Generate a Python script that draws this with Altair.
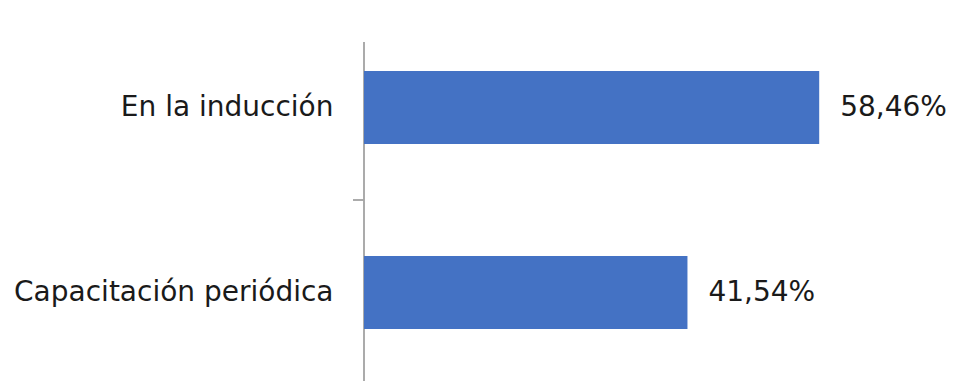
import altair as alt
import pandas as pd

categories = ["En la inducción", "Capacitación periódica"]
values = [58.46, 41.54]
labels = ["58,46%", "41,54%"]

df = pd.DataFrame({"cat": categories, "val": values, "lab": labels})

FONT = "DejaVu Sans"
FS = 28

y_enc = alt.Y("cat:N", sort=categories, title=None,
              scale=alt.Scale(paddingInner=0.605, paddingOuter=0.3025),
              axis=alt.Axis(domain=False, ticks=False, labelPadding=31,
                            labelFont=FONT, labelFontSize=FS, labelColor="#1a1a1a",
                            minExtent=356, maxExtent=356, labelLimit=400))
x_enc = alt.X("val:Q", title=None, scale=alt.Scale(domain=[0, 75]), axis=None)

base = alt.Chart(df)
bars = base.mark_bar(color="#4472C4").encode(x=x_enc, y=y_enc)
text = base.mark_text(align="left", baseline="middle", dx=21, font=FONT,
                      fontSize=FS, color="#1a1a1a").encode(x=x_enc, y=y_enc, text="lab:N")

axis_line = alt.Chart(df).mark_rule(color="#A6A6A6", strokeWidth=1.5).encode(
    x=alt.value(0), y=alt.value(27), y2=alt.value(370))
tick = alt.Chart(df).mark_rule(color="#A6A6A6", strokeWidth=1.5).encode(
    x=alt.value(-11), x2=alt.value(0), y=alt.value(185))

chart = alt.layer(axis_line, bars, text, tick).properties(
    width=584, height=370,
    padding={"top": 7, "left": 0, "right": 0, "bottom": 0},
    background="white"
).configure_view(strokeWidth=0, stroke=None)

chart.save("out.html", embed_options={"renderer": "svg", "actions": False})
